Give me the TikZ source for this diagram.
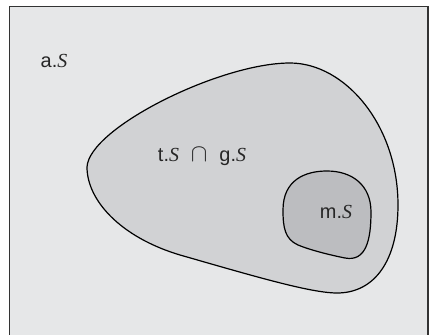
\documentclass[tikz,border=0pt]{standalone}
\usepackage{fontspec}
\setmainfont{Liberation Sans}
\newfontfamily\serifit{Liberation Serif}[ItalicFont={Liberation Serif Italic}]
\newcommand{\setS}{{\serifit\itshape S}}
\definecolor{bgc}{HTML}{E6E7E8}
\definecolor{outc}{HTML}{D1D2D4}
\definecolor{inc}{HTML}{BCBDC0}
\begin{document}
\begin{tikzpicture}[x=1bp,y=-1bp,
  blob/.style={draw=black,line width=1.2bp},
  lbl/.style={font=\fontsize{20}{22}\selectfont,inner sep=0pt,text=black!85}]
\useasboundingbox (0,0) rectangle (429,335);
\fill[white] (0,0) rectangle (429,335);
\fill[bgc] (9,6) rectangle (429,335);
\draw[line width=1.3bp,black!80] (9.5,336) -- (9.5,6.5) -- (428,6.5) -- (428,336);
\draw[blob,fill=outc] (87,167) .. controls (89,128) and (220,63) .. (290,63)
  .. controls (345,63) and (398,125) .. (398,205)
  .. controls (398,260) and (375,293) .. (337,293)
  .. controls (310,293) and (250,275) .. (180,255)
  .. controls (120,237) and (87,200) .. (87,167) -- cycle;
\draw[blob,fill=inc] (283,210) .. controls (283,180) and (305,171) .. (327,171)
  .. controls (352,171) and (371,185) .. (371,212)
  .. controls (371,240) and (366,262) .. (345,258)
  .. controls (330,255) and (310,250) .. (298,245)
  .. controls (285,239) and (283,228) .. (283,210) -- cycle;
\node[lbl] (as) at (54,61) {a.\setS};
\node[lbl] (tg) at (202,157) {t.\setS\hspace{0.6em}{\fontsize{25}{27}\selectfont$\cap$}\hspace{0.6em}g.\setS};
\node[lbl] (ms) at (336,212) {m.\setS};
\end{tikzpicture}
\end{document}
